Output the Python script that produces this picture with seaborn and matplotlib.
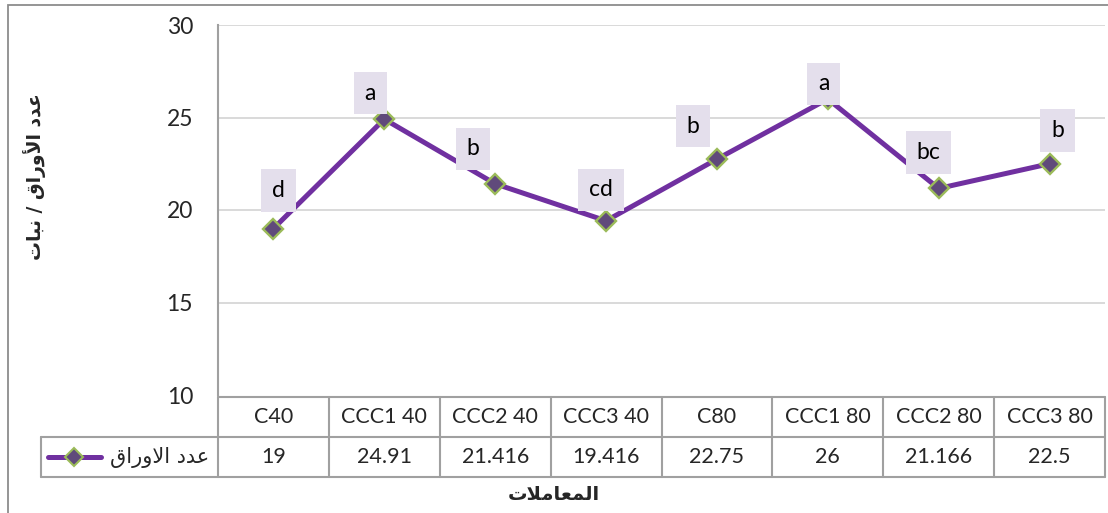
import numpy as np
import pandas as pd
import matplotlib
matplotlib.use("Agg")
import matplotlib.pyplot as plt
from matplotlib.lines import Line2D
from matplotlib.patches import Rectangle
import seaborn as sns

# ---- data -------------------------------------------------------------
treatments = ["C40", "CCC1 40", "CCC2 40", "CCC3 40",
              "C80", "CCC1 80", "CCC2 80", "CCC3 80"]
leaf_counts = [19, 24.91, 21.416, 19.416, 22.75, 26, 21.166, 22.5]
value_labels = ["19", "24.91", "21.416", "19.416", "22.75", "26", "21.166", "22.5"]
letters = ["d", "a", "b", "cd", "b", "a", "bc", "b"]
y_ticks = [10, 15, 20, 25, 30]

series_name = "عدد الاوراق"
y_title = "عدد الأوراق / نبات"
x_title = "المعاملات"

# placement of each letter box relative to its point (dx, dy in pixels)
letter_offsets = [(5, 38), (-14, 26), (-22, 35), (-5, 31),
                  (-24, 33), (-4, 15), (-10, 36), (8, 33)]

# ---- minimal Arabic shaping (contextual forms + visual order) ----------
FORMS = {  # isolated, final, initial, medial
    "ا": ("\uFE8D", "\uFE8E", None, None),
    "أ": ("\uFE83", "\uFE84", None, None),
    "ب": ("\uFE8F", "\uFE90", "\uFE91", "\uFE92"),
    "ت": ("\uFE95", "\uFE96", "\uFE97", "\uFE98"),
    "د": ("\uFEA9", "\uFEAA", None, None),
    "ر": ("\uFEAD", "\uFEAE", None, None),
    "ع": ("\uFEC9", "\uFECA", "\uFECB", "\uFECC"),
    "ق": ("\uFED5", "\uFED6", "\uFED7", "\uFED8"),
    "ل": ("\uFEDD", "\uFEDE", "\uFEDF", "\uFEE0"),
    "م": ("\uFEE1", "\uFEE2", "\uFEE3", "\uFEE4"),
    "ن": ("\uFEE5", "\uFEE6", "\uFEE7", "\uFEE8"),
    "و": ("\uFEED", "\uFEEE", None, None),
}
LAM_ALEF = {"ا": ("\uFEFB", "\uFEFC"), "أ": ("\uFEF7", "\uFEF8")}


def shape(text):
    out = []
    prev_joins = False
    i = 0
    while i < len(text):
        c = text[i]
        nxt = text[i + 1] if i + 1 < len(text) else ""
        if c == "ل" and nxt in LAM_ALEF:
            iso, fin = LAM_ALEF[nxt]
            out.append(fin if prev_joins else iso)
            prev_joins = False
            i += 2
            continue
        if c not in FORMS:
            out.append(c)
            prev_joins = False
            i += 1
            continue
        iso, fin, ini, med = FORMS[c]
        joins_next = ini is not None and nxt in FORMS
        if prev_joins and joins_next:
            g = med
        elif prev_joins:
            g = fin
        elif joins_next:
            g = ini
        else:
            g = iso
        out.append(g)
        prev_joins = joins_next
        i += 1
    return "".join(reversed(out))


# ---- style ------------------------------------------------------------
sns.set_theme(style="white")
LATIN = ["Lato", "DejaVu Sans"]
plt.rcParams["font.family"] = LATIN
ARABIC = ["DejaVu Sans"]

W, H = 1108, 513
LINE_C = "#7030A0"
FACE_C = "#604A7B"
EDGE_C = "#9BBB59"
GRID_C = "#D9D9D9"
BORDER_C = "#A0A0A0"
BOX_C = "#E4DFEC"


def fx(px):
    return px / W


def fy(py):
    return 1 - py / H


fig = plt.figure(figsize=(W / 100, H / 100), dpi=100)
fig.patch.set_facecolor("white")

# chart frame
fig.add_artist(Rectangle((fx(8), fy(515)), fx(1110) - fx(8), fy(5) - fy(515),
                         transform=fig.transFigure, fill=False,
                         edgecolor="#8C8C8C", lw=1.3))

plot_l, plot_r, plot_t, plot_b = 218, 1105, 25, 395
ax = fig.add_axes([fx(plot_l), fy(plot_b), fx(plot_r) - fx(plot_l), fy(plot_t) - fy(plot_b)])

df = pd.DataFrame({"pos": np.arange(len(treatments)), "value": leaf_counts})
sns.lineplot(data=df, x="pos", y="value", ax=ax, sort=False, color=LINE_C,
             lw=3.6, marker="D", markersize=10.5, markerfacecolor=FACE_C,
             markeredgecolor=EDGE_C, markeredgewidth=1.7, zorder=3)

ax.set_xlim(-0.5, len(treatments) - 0.5)
ax.set_ylim(y_ticks[0], y_ticks[-1])
ax.set_yticks(y_ticks)
ax.set_yticklabels([str(t) for t in y_ticks], fontsize=16.5)
ax.set_xticks([])
ax.tick_params(axis="y", length=0, pad=18)
ax.set_xlabel("")
ax.set_ylabel("")
for t in y_ticks[1:]:
    ax.axhline(t, color=GRID_C, lw=1.4, zorder=1)
for side in ["top", "right", "bottom"]:
    ax.spines[side].set_visible(False)
ax.spines["left"].set_color(BORDER_C)
ax.spines["left"].set_linewidth(1.5)

# significance letters above each point
PT = 72 / 100  # pixels -> points
for i, (v, lab, (dx, dy)) in enumerate(zip(leaf_counts, letters, letter_offsets)):
    ax.annotate(lab, (i, v), xytext=(dx * PT, dy * PT), textcoords="offset points",
                ha="center", va="center", fontsize=16.5, color="black",
                bbox=dict(boxstyle="square,pad=0.47", fc=BOX_C, ec="none"),
                zorder=5, annotation_clip=False)

# ---- data table ---------------------------------------------------------
to_fig = ax.transData + fig.transFigure.inverted()


def col_x(d):
    return to_fig.transform((d, 0))[0]


row_top, row_mid, row_bot = 397, 437, 477
legend_l = 41
line_kw = dict(color=BORDER_C, lw=1.5, transform=fig.transFigure)
n = len(treatments)
x_left = col_x(-0.5)
x_right = col_x(n - 0.5)

fig.add_artist(Line2D([x_left, x_right], [fy(row_top)] * 2, **line_kw))
fig.add_artist(Line2D([fx(legend_l), x_right], [fy(row_mid)] * 2, **line_kw))
fig.add_artist(Line2D([fx(legend_l), x_right], [fy(row_bot)] * 2, **line_kw))
fig.add_artist(Line2D([fx(legend_l)] * 2, [fy(row_mid), fy(row_bot)], **line_kw))
for k in range(n + 1):
    xb = col_x(k - 0.5)
    fig.add_artist(Line2D([xb, xb], [fy(row_top), fy(row_bot)], **line_kw))

for i, (name, val) in enumerate(zip(treatments, value_labels)):
    xc = col_x(i)
    fig.text(xc, fy((row_top + row_mid) / 2), name, ha="center", va="center",
             fontsize=15.5)
    fig.text(xc, fy((row_mid + row_bot) / 2), val, ha="center", va="center",
             fontsize=15.5)

# legend key inside the table
ly = fy((row_mid + row_bot) / 2)
fig.add_artist(Line2D([fx(48), fx(101)], [ly, ly], color=LINE_C, lw=3.6,
                      transform=fig.transFigure, solid_capstyle="round"))
fig.add_artist(Line2D([fx(74)], [ly], marker="D", markersize=9.5,
                      markerfacecolor=FACE_C, markeredgecolor=EDGE_C,
                      markeredgewidth=1.5, transform=fig.transFigure))
fig.text(fx(209), ly, shape(series_name), ha="right", va="center",
         fontsize=15, family=ARABIC)

# axis titles
fig.text(fx(554), fy(495), shape(x_title), ha="center", va="center",
         fontsize=14, fontweight="bold", family=ARABIC)
fig.text(fx(35), fy(177), shape(y_title), ha="center", va="center",
         rotation=90, fontsize=13.5, fontweight="bold", family=ARABIC)

fig.savefig("out.png", dpi=100, facecolor="white")
